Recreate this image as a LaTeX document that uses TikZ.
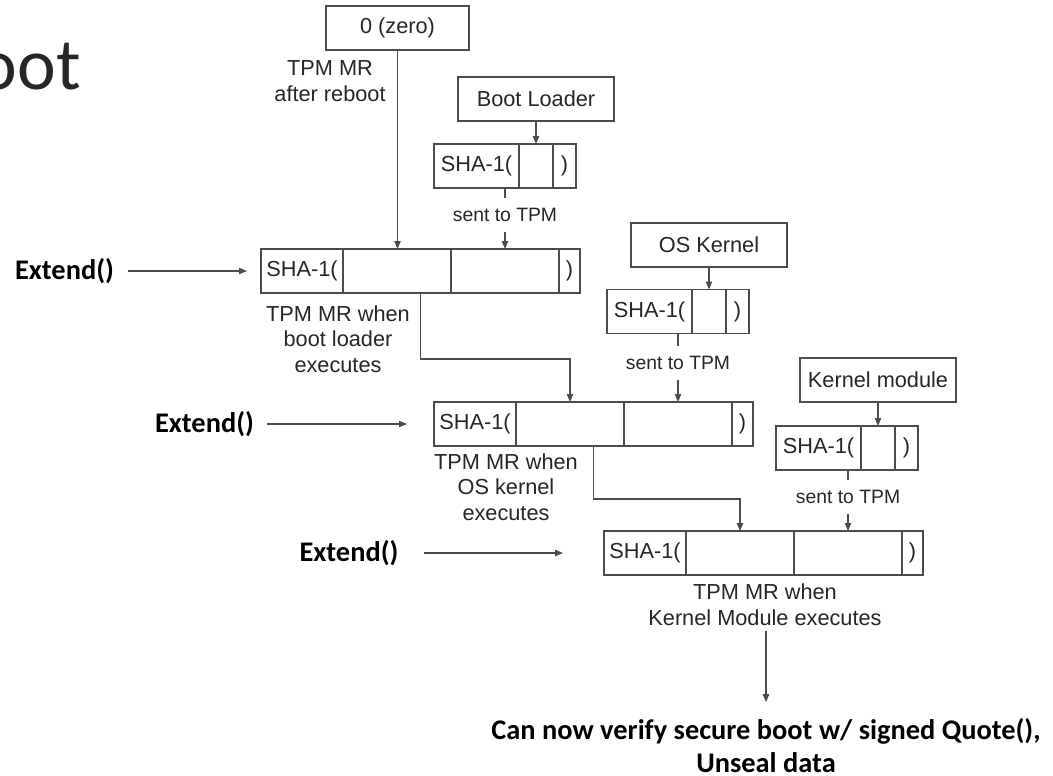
\documentclass[tikz,border=0pt]{standalone}
\usepackage{fontspec}
\setmainfont{Liberation Sans}
\newfontfamily\calibri{Carlito}
\usetikzlibrary{arrows.meta,calc}
\newcommand\mrrow[3]{%
  \node[cell, minimum width=61.5pt] (#1s) at (#2,#3) {SHA-1(};
  \node[cell, minimum width=81pt] (#1a) at (#1s.north east) {};
  \node[cell, minimum width=81pt] (#1b) at (#1a.north east) {};
  \node[cell, minimum width=15.75pt] (#1c) at (#1b.north east) {)};
  \coordinate (#1m) at ($(#1s.south west)!.5!(#1c.south east)$);
}
\newcommand\hashrow[3]{%
  \node[cell, minimum width=63.75pt] (#1s) at (#2,#3) {SHA-1(};
  \node[cell, minimum width=25.5pt] (#1a) at (#1s.north east) {};
  \node[cell, minimum width=17.25pt] (#1c) at (#1a.north east) {)};
}
\begin{document}
\begin{tikzpicture}[x=0.75pt,y=-0.75pt,
  ln/.style={draw=black!70, line width=0.8pt},
  arr/.style={ln, -{Triangle[length=6pt,width=4.8pt]}},
  cell/.style={ln, anchor=north west, minimum height=33pt, inner sep=0pt, outer sep=0pt,
    font=\fontsize{16.3}{18}\selectfont, text=black!85},
  srcbox/.style={ln, anchor=north west, minimum width=117pt, minimum height=33pt, inner sep=0pt, outer sep=0pt,
    font=\fontsize{16.3}{18}\selectfont, text=black!85},
  lbl/.style={align=center, font=\fontsize{16.3}{19.1}\selectfont, text=black!85, inner sep=0pt},
  sent/.style={fill=white, font=\fontsize{14.5}{16}\selectfont, text=black!85, inner xsep=1pt, inner ysep=7.5pt},
  ext/.style={font=\calibri\bfseries\fontsize{21.3}{24}\selectfont, inner sep=0pt},
  final/.style={align=center, font=\calibri\bfseries\fontsize{21.3}{24.75}\selectfont, inner sep=0pt}
]
\useasboundingbox (0,0) rectangle (1053,775);
\fill[white] (0,0) rectangle (1053,775);
\begin{scope}
\clip (0,0) rectangle (1053,775);
\node[anchor=base east, font=\calibri\fontsize{55}{60}\selectfont, text=black!85, inner sep=0pt] (title) at (81,89) {oot};
\end{scope}

% zero box
\node[ln, anchor=north west, minimum width=107.25pt, minimum height=33pt, inner sep=0pt, outer sep=0pt,
  font=\fontsize{16.3}{18}\selectfont, text=black!85] (zero) at (326,6) {0 (zero)};
\node[lbl] (zlab) at (330,81) {TPM MR\\after reboot};

% source boxes
\node[srcbox] (boot) at (458,77) {Boot Loader};
\node[srcbox] (osk) at (631,223) {OS Kernel};
\node[srcbox] (kmod) at (800,358) {Kernel module};

% hash rows
\hashrow{h1}{434}{144}
\hashrow{h2}{607}{289.5}
\hashrow{h3}{776}{426}

% measurement registers
\mrrow{r1}{261}{249}
\mrrow{r2}{434}{402}
\mrrow{r3}{604}{531}

% labels
\node[lbl] (lab1) at (338,339) {TPM MR when\\boot loader\\executes};
\node[lbl] (lab2) at (506,487) {TPM MR when\\OS kernel\\executes};
\node[lbl] (lab3) at (765,604.5) {TPM MR when\\Kernel Module executes};

% extend labels
\node[ext] (e1) at (64.5,271) {Extend()};
\node[ext] (e2) at (204.5,424) {Extend()};
\node[ext] (e3) at (349,553) {Extend()};

\node[final] (fin) at (766,745.5) {Can now verify secure boot w/ signed Quote(),\\Unseal data};

% connectors
\draw[arr] (zero.south) -- (zero.south |- r1a.north);
\draw[arr] (boot.south) -- (boot.south |- h1a.north);
\draw[arr] (osk.south) -- (osk.south |- h2a.north);
\draw[arr] (kmod.south) -- (kmod.south |- h3a.north);

\draw[arr] (r1b.north |- h1s.south) -- node[sent, pos=0.44] {sent to TPM} (r1b.north);
\draw[arr] (r2b.north |- h2s.south) -- node[sent, pos=0.43] {sent to TPM} (r2b.north);
\draw[arr] (r3b.north |- h3s.south) -- node[sent, pos=0.44] {sent to TPM} (r3b.north);

\draw[arr] (r1m) -- ++(0,66) -| (r2a.north);
\draw[arr] (r2m) -- ++(0,53) -| (r3a.north);

\draw[arr, shorten <=10.5pt, shorten >=10.5pt] (e1.east) -- (e1.east -| r1s.west);
\draw[arr, shorten <=9.75pt, shorten >=20.25pt] (e2.east) -- (e2.east -| r2s.west);
\draw[arr, shorten <=18.75pt, shorten >=30.75pt] (e3.east) -- (e3.east -| r3s.west);

\draw[arr, shorten <=4pt, shorten >=12pt] (lab3.south -| fin.north) -- (fin.north);
\end{tikzpicture}
\end{document}
